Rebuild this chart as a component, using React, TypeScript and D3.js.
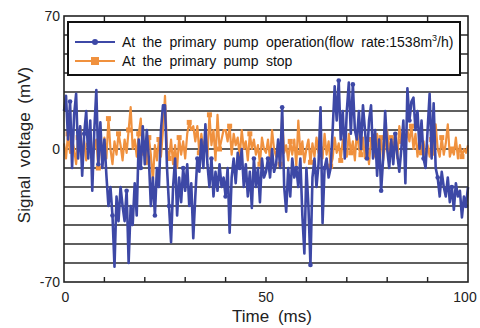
import { useEffect, useRef } from "react";
import * as d3 from "d3";

// time step 0.5 ms, 0..100 ms
const step = 0.5;

const pumpOperation = [
  20, 28, 5, 25, -10, 18, 29, -5, 12, -14,
  8, 20, -5, 15, -22, 10, 31, -8, 14, -10,
  5, -14, -30, -20, -35, -62, -25, -38, -20, -30,
  -38, -22, -60, -30, -40, -18, -35, 5, -10, 12,
  -8, 10, -5, -30, -15, -35, -10, -20, 10, 23,
  23, -10, -30, -49, -20, -5, -35, -15, -28, -10,
  -22, -8, -30, -18, -47, -25, -5, -12, 5, -10,
  13, -8, -20, -5, -25, -12, -22, -8, -20, -15,
  -25, -10, -44, -15, -5, -18, -2, -10, 0, -20,
  -8, -25, -12, -31, -5, -20, -10, -28, -5, -15,
  -12, -5, -15, 0, -12, -8, 5, -10, 22, -20,
  -33, -10, -25, -5, -15, -10, -20, -5, -35, -55,
  -10, -30, -61, -15, -5, -20, -8, 22, -39, -10,
  -5, -15, -10, 10, 33, 15, 36, 5, 20, -5,
  20, 35, 8, 34, 10, 5, 20, 0, 23, 10,
  -5, 15, 23, -5, 10, -14, 5, -22, -5, 20,
  0, -10, 5, -8, 8, -3, -12, 0, 15, -18,
  32, 15, 25, 27, 10, 20, 0, 15, -5, -10,
  10, 29, -5, 24, -10, -15, -25, -12, -20, -25,
  -15, -28, -20, -32, -18, -25, -22, -36, -25, -30,
  -20,
];

const pumpStop = [
  3, -5, 8, -2, 5, 0, -8, 6, 12, -3,
  4, -6, 2, 8, -4, 0, 5, -10, 3, -2,
  6, -5, 16, 0, -8, 4, -3, 8, 2, -6,
  5, -2, 10, 22, 0, 5, -4, 8, 16, -3,
  4, -8, 6, -3, -17, 2, -6, 5, -4, 10,
  28, 0, -5, 5, -8, 2, -10, 6, -3, 4,
  -5, 8, 14, 10, 12, 4, 12, -2, 8, 0,
  6, -4, 18, 2, 10, -6, 18, 0, 5, 10,
  10, 4, 12, -3, 8, 2, 6, -4, 10, 0,
  4, -6, 8, 0, 5, -3, 2, -8, 6, 0,
  -2, 5, -6, 10, 0, -4, 3, -8, 17, -2,
  2, -6, 4, -3, 5, -9, 15, -2, 4, -7,
  0, 5, -7, 3, -4, 6, -2, 0, -5, 8,
  -3, 4, -9, -5, 6, -2, 3, -6, 5, 0,
  -4, 8, -2, 4, -6, 10, 0, -3, 6, -5,
  2, -8, 5, 0, -4, 8, -2, 6, -6, 3,
  10, -3, 6, 0, 8, -5, 12, 4, 10, 2,
  10, 4, 12, 0, 8, -4, 6, -2, 4, -6,
  2, -4, 5, -3, 13, 0, -4, 6, -3, 3,
  13, -4, 0, -3, 6, -5, 2, -4, 0, -2,
  2,
];

const legendLabels = [
  "At the primary pump operation(flow rate:1538m",
  "At the primary pump stop",
];
const xTickLabels = [0, 50, 100];
const yTickLabels = [-70, 0, 70];

const blue = "#3d48a6";
const orange = "#f0913e";

const App = () => {
  const ref = useRef<SVGSVGElement | null>(null);

  useEffect(() => {
    const svg = d3.select(ref.current);
    svg.selectAll("*").remove();

    const left = 64,
      right = 468,
      top = 16,
      bottom = 282;

    const x = d3.scaleLinear().domain([0, 100]).range([left, right]);
    const y = d3.scaleLinear().domain([-70, 70]).range([bottom, top]);

    // grid
    svg
      .append("g")
      .selectAll("line")
      .data(d3.range(-60, 70, 10))
      .join("line")
      .attr("x1", left)
      .attr("x2", right)
      .attr("y1", (d) => y(d))
      .attr("y2", (d) => y(d))
      .attr("stroke", "#2a2a2a")
      .attr("stroke-width", 1.4);

    const line = d3
      .line<number>()
      .x((_, i) => x(i * step))
      .y((d) => y(d));

    const plot = svg.append("g");

    plot
      .append("path")
      .datum(pumpStop)
      .attr("d", line)
      .attr("fill", "none")
      .attr("stroke", orange)
      .attr("stroke-width", 2.2)
      .attr("stroke-linejoin", "round");

    plot
      .selectAll(".sq")
      .data(pumpStop.map((d, i) => [i * step, d]).filter((_, i) => i % 5 === 2))
      .join("rect")
      .attr("x", (d) => x(d[0]) - 2.5)
      .attr("y", (d) => y(d[1]) - 2.5)
      .attr("width", 5)
      .attr("height", 5)
      .attr("fill", orange);

    plot
      .append("path")
      .datum(pumpOperation)
      .attr("d", line)
      .attr("fill", "none")
      .attr("stroke", blue)
      .attr("stroke-width", 2.6)
      .attr("stroke-linejoin", "round");

    plot
      .selectAll(".dot")
      .data(
        pumpOperation.map((d, i) => [i * step, d]).filter((_, i) => i % 7 === 3)
      )
      .join("circle")
      .attr("cx", (d) => x(d[0]))
      .attr("cy", (d) => y(d[1]))
      .attr("r", 2.3)
      .attr("fill", blue);

    // frame
    svg
      .append("rect")
      .attr("x", left)
      .attr("y", top)
      .attr("width", right - left)
      .attr("height", bottom - top)
      .attr("fill", "none")
      .attr("stroke", "#222")
      .attr("stroke-width", 1.6);

    // ticks top/bottom
    const xt = d3.range(10, 100, 10);
    svg
      .append("g")
      .selectAll("line")
      .data(xt)
      .join("line")
      .attr("x1", (d) => x(d))
      .attr("x2", (d) => x(d))
      .attr("y1", bottom)
      .attr("y2", bottom - 5)
      .attr("stroke", "#222")
      .attr("stroke-width", 1.4);
    svg
      .append("g")
      .selectAll("line")
      .data(xt)
      .join("line")
      .attr("x1", (d) => x(d))
      .attr("x2", (d) => x(d))
      .attr("y1", top)
      .attr("y2", top + 5)
      .attr("stroke", "#222")
      .attr("stroke-width", 1.4);

    const font = "Liberation Sans, Arial, sans-serif";

    svg
      .append("g")
      .selectAll("text")
      .data(yTickLabels)
      .join("text")
      .attr("x", left - 4)
      .attr("y", (d) => y(d) + 5)
      .attr("text-anchor", "end")
      .attr("font-family", font)
      .attr("font-size", 14)
      .attr("fill", "#222")
      .text((d) => String(d));

    svg
      .append("g")
      .selectAll("text")
      .data(xTickLabels)
      .join("text")
      .attr("x", (d) => x(d) + (d === 0 ? 1.5 : d === 100 ? -3 : 0))
      .attr("y", bottom + 20)
      .attr("text-anchor", "middle")
      .attr("font-family", font)
      .attr("font-size", 14)
      .attr("fill", "#222")
      .text((d) => String(d));

    svg
      .append("text")
      .attr("x", 272)
      .attr("y", 322)
      .attr("text-anchor", "middle")
      .attr("font-family", font)
      .attr("font-size", 17)
      .attr("word-spacing", 4)
      .attr("fill", "#222")
      .text("Time (ms)");

    svg
      .append("text")
      .attr("transform", "translate(30,145) rotate(-90)")
      .attr("text-anchor", "middle")
      .attr("font-family", font)
      .attr("font-size", 17)
      .attr("word-spacing", 4)
      .attr("fill", "#222")
      .text("Signal voltage (mV)");

    // legend
    const lg = svg.append("g");
    lg.append("rect")
      .attr("x", 68)
      .attr("y", 22)
      .attr("width", 392)
      .attr("height", 53)
      .attr("fill", "#fff")
      .attr("stroke", "#111")
      .attr("stroke-width", 2);

    const rows = [
      { label: legendLabels[0], color: blue, marker: "dot", cy: 42 },
      { label: legendLabels[1], color: orange, marker: "sq", cy: 61 },
    ];
    rows.forEach((r, i) => {
      lg.append("line")
        .attr("x1", 75)
        .attr("x2", 115)
        .attr("y1", r.cy)
        .attr("y2", r.cy)
        .attr("stroke", r.color)
        .attr("stroke-width", 2);
      if (r.marker === "dot") {
        lg.append("circle").attr("cx", 95).attr("cy", r.cy).attr("r", 3).attr("fill", r.color);
      } else {
        lg.append("rect")
          .attr("x", 91)
          .attr("y", r.cy - 4)
          .attr("width", 8)
          .attr("height", 8)
          .attr("fill", r.color);
      }
      const t = lg
        .append("text")
        .attr("x", 122)
        .attr("y", r.cy + 5)
        .attr("font-family", font)
        .attr("font-size", 14)
        .attr("word-spacing", 3.5)
        .attr("fill", "#111")
        .text(r.label);
      if (i === 0) {
        t.append("tspan").attr("font-size", 9).attr("dy", -6).text("3");
        t.append("tspan").attr("dy", 6).text("/h)");
      }
    });
  }, []);

  return (
    <svg
      ref={ref}
      width={480}
      height={328}
      style={{ display: "block", position: "absolute", left: 0, top: 0 }}
    />
  );
};

export default App;
